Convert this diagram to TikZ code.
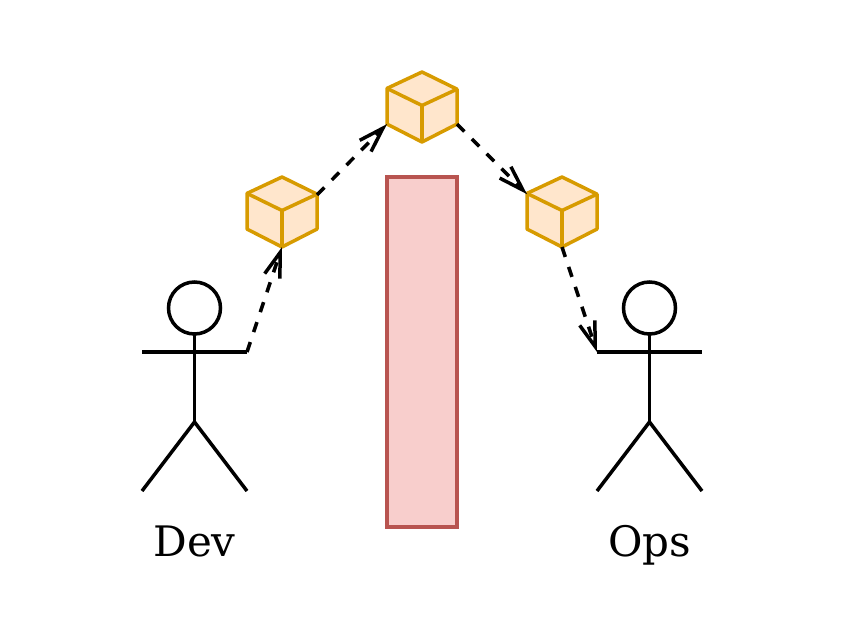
\documentclass[tikz,border=0pt]{standalone}
\usepackage{fontspec}
\setmainfont{DejaVu Serif}
\usetikzlibrary{arrows.meta}
\definecolor{ccube}{HTML}{D79B00}
\definecolor{ccubefill}{HTML}{FFE6CC}
\definecolor{cwall}{HTML}{B85450}
\definecolor{cwallfill}{HTML}{F8CECC}
\tikzset{
  cubebox/.style={minimum size=70pt, inner sep=0pt, outer sep=0pt},
  cubeline/.style={draw=ccube, line width=3.5pt, line join=round},
  wallbox/.style={draw=cwall, fill=cwallfill, line width=3.5pt, minimum width=70pt, minimum height=350pt, inner sep=0pt, outer sep=0pt},
  headnode/.style={circle, draw=black, line width=3.5pt, minimum size=52pt, inner sep=0pt, outer sep=0pt},
  stick/.style={draw=black, line width=3.5pt},
  actorlabel/.style={font=\fontsize{42}{50}\selectfont, anchor=base, inner sep=0pt},
  flow/.style={draw=black, line width=3.5pt, dash pattern=on 10.5pt off 10.5pt, -{Straight Barb[length=25pt, width=16pt, line width=3.5pt]}},
}
\begin{document}
\begin{tikzpicture}[x=1pt, y=-1pt]
\useasboundingbox (0,0) rectangle (844,634);

\node[wallbox] (wall) at (422,352) {};

% cubes
\foreach \n/\x/\y in {cubeA/282/212, cubeB/422/107, cubeC/562/212} {
  \node[cubebox] (\n) at (\x,\y) {};
  \coordinate (\n Mid) at (\x,{\y-1.5});
  \fill[ccubefill] (\n.north) -- (\n.27.86) -- (\n.-26.57) -- (\n.south) -- (\n.206.57) -- (\n.152.14) -- cycle;
  \draw[cubeline] (\n.north) -- (\n.27.86) -- (\n.-26.57) -- (\n.south) -- (\n.206.57) -- (\n.152.14) -- cycle;
  \draw[cubeline] (\n.152.14) -- (\n Mid) -- (\n.27.86);
  \draw[cubeline] (\n Mid) -- (\n.south);
}

% actors
\foreach \n/\x/\t in {dev/194.5/Dev, ops/649.5/Ops} {
  \node[headnode] (\n Head) at (\x,308) {};
  \coordinate (\n Left) at ({\x-52.5},352);
  \coordinate (\n Right) at ({\x+52.5},352);
  \coordinate (\n Hip) at (\x,422);
  \draw[stick] (\n Head.south) -- (\n Hip);
  \draw[stick] (\n Left) -- (\n Right);
  \draw[stick] ({\x-52.5},491) -- (\n Hip) -- ({\x+52.5},491);
  \node[actorlabel] (\n Label) at (\x,556) {\t};
}

\draw[flow] (devRight) -- (cubeA.south);
\draw[flow] (cubeA.26.57) -- (cubeB.206.57);
\draw[flow] (cubeB.-26.57) -- (cubeC.153.43);
\draw[flow] (cubeC.south) -- (opsLeft);

\end{tikzpicture}
\end{document}
